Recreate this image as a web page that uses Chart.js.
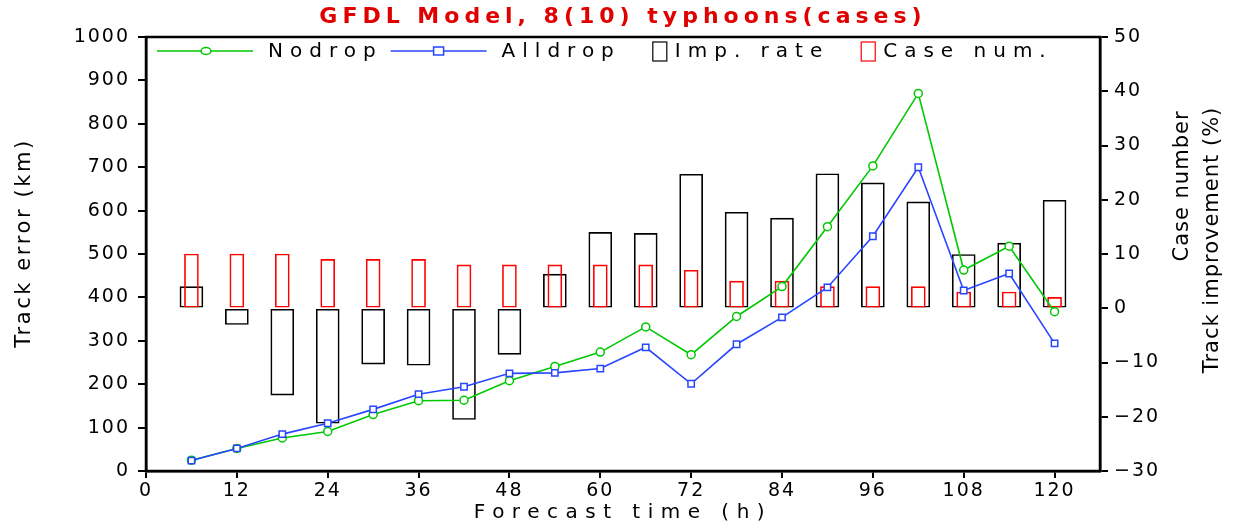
<!DOCTYPE html>
<html>
<head>
<meta charset="utf-8">
<script src="https://cdn.jsdelivr.net/npm/chart.js@4.4.1/dist/chart.umd.min.js"></script>
<style>
  html, body { margin: 0; padding: 0; background: #fff; }
  #wrap { width: 1241px; height: 528px; }
</style>
</head>
<body>
<div id="wrap"><canvas id="grafico"></canvas></div>
<script>
  // datos
  var horas = [6, 12, 18, 24, 30, 36, 42, 48, 54, 60, 66, 72, 78, 84, 90, 96, 102, 108, 114, 120];
  var nodrop = [25, 52, 76, 91, 130, 162, 163, 208, 241, 274, 332, 268, 356, 425, 563, 703, 870, 463, 518, 367];
  var alldrop = [24, 52, 85, 110, 142, 177, 194, 225, 226, 236, 285, 201, 292, 354, 423, 541, 700, 416, 455, 294];
  var impRate = [4, -3, -16, -21.2, -10.3, -10.5, -20.5, -8.5, 6.3, 14, 13.8, 24.7, 17.7, 16.6, 24.8, 23.1, 19.6, 9.9, 12, 19.9];
  var caseNum = [10, 10, 10, 9, 9, 9, 8, 8, 8, 8, 8, 7, 5, 5, 4, 4, 4, 3, 3, 2];
  var ticksX = [0, 12, 24, 36, 48, 60, 72, 84, 96, 108, 120];

  var VERDE = '#00c800';
  var AZUL = '#2846ff';
  var ROJO = '#ff0000';
  var fuente = '"DejaVu Sans", sans-serif';

  function puntos(valores) {
    return horas.map(function(h, i) { return { x: h, y: valores[i] }; });
  }

  function menos(v) {
    return v < 0 ? '\u2212' + Math.abs(v) : '' + v;
  }

  Chart.defaults.font.family = fuente;
  Chart.defaults.color = '#000';

  // letter spacing para imitar la fuente del original
  var espaciado = {
    id: 'espaciado',
    beforeDraw: function(chart) {
      chart.ctx.letterSpacing = '2px';
    }
  };

  // marco completo del area de dibujo
  var marco = {
    id: 'marco',
    afterDraw: function(chart) {
      var a = chart.chartArea, ctx = chart.ctx;
      ctx.save();
      ctx.strokeStyle = '#000';
      ctx.lineWidth = 2.5;
      ctx.strokeRect(a.left, a.top, a.right - a.left, a.bottom - a.top);
      ctx.restore();
    }
  };

  function texto(ctx, t, x, y, font, color, spacing, giro) {
    ctx.save();
    ctx.font = font;
    ctx.letterSpacing = spacing;
    ctx.fillStyle = color;
    ctx.textAlign = 'center';
    ctx.textBaseline = 'middle';
    ctx.translate(x, y);
    if (giro) ctx.rotate(-Math.PI / 2);
    ctx.fillText(t, 0, 0);
    ctx.restore();
  }

  // titulos (el de arriba y los de los ejes)
  var titulos = {
    id: 'titulos',
    afterDraw: function(chart) {
      var ctx = chart.ctx, a = chart.chartArea;
      var cx = (a.left + a.right) / 2;
      texto(ctx, 'GFDL Model, 8(10) typhoons(cases)', cx, 17, 'bold 22px ' + fuente, '#e00000', '5px', false);
      texto(ctx, 'Forecast time (h)', cx, 513, '20px ' + fuente, '#000', '7.5px', false);
      texto(ctx, 'Track error (km)', 25, 243, '21px ' + fuente, '#000', '2.6px', true);
      texto(ctx, 'Case number', 1183, 186, '21px ' + fuente, '#000', '1px', true);
      texto(ctx, 'Track improvement (%)', 1213, 240, '21px ' + fuente, '#000', '1px', true);
    }
  };

  // leyenda dentro del area, como en el original
  var leyenda = {
    id: 'leyenda',
    afterDatasetsDraw: function(chart) {
      var ctx = chart.ctx, a = chart.chartArea;
      var ds = chart.data.datasets;
      var y = a.top + 14;
      var x = a.left + 11;
      ctx.save();
      ctx.font = '20px ' + fuente;
      ctx.letterSpacing = '7px';
      ctx.textBaseline = 'middle';
      ctx.textAlign = 'left';
      ds.forEach(function(d, i) {
        if (d.type === 'line') {
          ctx.strokeStyle = d.borderColor;
          ctx.lineWidth = 1.5;
          ctx.beginPath();
          ctx.moveTo(x, y);
          ctx.lineTo(x + 96, y);
          ctx.stroke();
          ctx.fillStyle = '#fff';
          ctx.beginPath();
          if (d.pointStyle === 'circle') {
            ctx.ellipse(x + 49, y, 5, 3.5, 0, 0, Math.PI * 2);
          } else {
            ctx.rect(x + 43, y - 4, 10, 8);
          }
          ctx.fill();
          ctx.stroke();
          x += 111;
        } else {
          ctx.strokeStyle = d.borderColor;
          ctx.lineWidth = 1.2;
          ctx.strokeRect(x, y - 9, 14, 19);
          x += 22;
        }
        ctx.fillStyle = '#000';
        ctx.fillText(d.label, x, y + 1);
        var sig = ds[i + 1];
        x += ctx.measureText(d.label).width + (sig && sig.type === 'bar' ? 32 : 8);
      });
      ctx.restore();
    }
  };

  var ctx = document.getElementById('grafico').getContext('2d');

  var grafico = new Chart(ctx, {
    data: {
      datasets: [
        {
          type: 'line',
          label: 'Nodrop',
          data: puntos(nodrop),
          yAxisID: 'y',
          borderColor: VERDE,
          borderWidth: 1.6,
          pointStyle: 'circle',
          pointRadius: 4,
          pointBorderWidth: 1.5,
          pointBackgroundColor: '#fff',
          pointBorderColor: VERDE,
          order: 1
        },
        {
          type: 'line',
          label: 'Alldrop',
          data: puntos(alldrop),
          yAxisID: 'y',
          borderColor: AZUL,
          borderWidth: 1.6,
          pointStyle: 'rect',
          pointRadius: 4.5,
          pointBorderWidth: 1.5,
          pointBackgroundColor: '#fff',
          pointBorderColor: AZUL,
          order: 0
        },
        {
          type: 'bar',
          label: 'Imp. rate',
          data: puntos(impRate),
          yAxisID: 'y2',
          grouped: false,
          barThickness: 23,
          borderColor: '#000',
          borderWidth: 1,
          borderSkipped: false,
          backgroundColor: 'rgba(0,0,0,0)',
          order: 3
        },
        {
          type: 'bar',
          label: 'Case num.',
          data: puntos(caseNum),
          yAxisID: 'y2',
          grouped: false,
          barThickness: 14,
          borderColor: ROJO,
          borderWidth: 1,
          borderSkipped: false,
          backgroundColor: 'rgba(0,0,0,0)',
          order: 2
        }
      ]
    },
    options: {
      responsive: true,
      maintainAspectRatio: false,
      animation: false,
      layout: { padding: { top: 37 } },
      plugins: {
        legend: { display: false },
        tooltip: { enabled: false },
        title: { display: false }
      },
      scales: {
        x: {
          type: 'linear',
          position: 'bottom',
          min: 0,
          max: 126,
          offset: false,
          afterBuildTicks: function(scale) {
            scale.ticks = ticksX.map(function(v) { return { value: v }; });
          },
          afterFit: function(scale) { scale.height = 57; },
          grid: { drawOnChartArea: false, color: '#000', lineWidth: 2, tickLength: 7, offset: false },
          border: { color: '#000', width: 2.5 },
          ticks: { font: { size: 19 }, padding: 2, maxRotation: 0 }
        },
        y: {
          position: 'left',
          min: 0,
          max: 1000,
          afterFit: function(scale) { scale.width = 146; },
          grid: { drawOnChartArea: false, color: '#000', lineWidth: 2, tickLength: 8 },
          border: { color: '#000', width: 2.5 },
          ticks: {
            stepSize: 100,
            font: { size: 19 },
            padding: 8,
            callback: function(v) { return '' + v; }
          }
        },
        y2: {
          position: 'right',
          min: -30,
          max: 50,
          afterFit: function(scale) { scale.width = 141; },
          grid: { drawOnChartArea: false, color: '#000', lineWidth: 2, tickLength: 8 },
          border: { color: '#000', width: 2.5 },
          ticks: {
            stepSize: 10,
            font: { size: 19 },
            padding: 6,
            callback: function(v) { return menos(v); }
          }
        }
      }
    },
    plugins: [espaciado, marco, leyenda, titulos]
  });
</script>
</body>
</html>
